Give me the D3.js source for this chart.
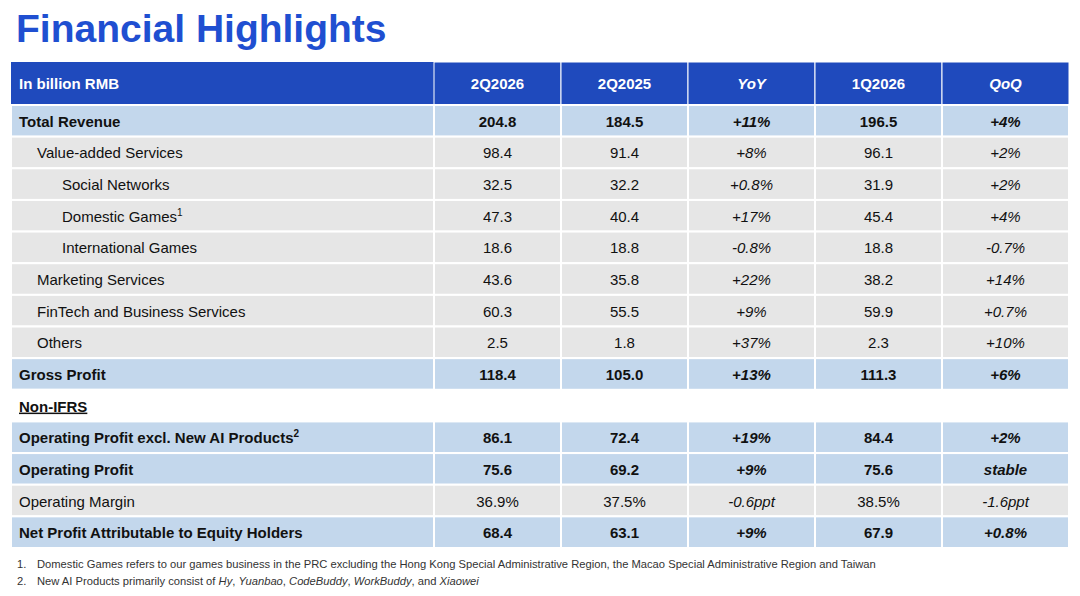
<!DOCTYPE html>
<html><head><meta charset="utf-8">
<script src="https://cdn.jsdelivr.net/npm/d3@7"></script>
<style>body{margin:0;background:#fff;font-family:"Liberation Sans",Arial,sans-serif}</style>
</head><body><div id="chart"></div>
<script>
var headers = ["In billion RMB","2Q2026","2Q2025","YoY","1Q2026","QoQ"]
var labels = ["Total Revenue","Value-added Services","Social Networks","Domestic Games","International Games","Marketing Services","FinTech and Business Services","Others","Gross Profit","Non-IFRS","Operating Profit excl. New AI Products","Operating Profit","Operating Margin","Net Profit Attributable to Equity Holders"]
var notes = ["","","","1","","","","","","","2","","",""]
var levels = [0,1,2,2,2,1,1,1,0,0,0,0,0,0]
var kinds = ["total","item","item","item","item","item","item","item","total","section","total","total","item","total"]
var q2_2026 = ["204.8","98.4","32.5","47.3","18.6","43.6","60.3","2.5","118.4","","86.1","75.6","36.9%","68.4"]
var q2_2025 = ["184.5","91.4","32.2","40.4","18.8","35.8","55.5","1.8","105.0","","72.4","69.2","37.5%","63.1"]
var yoy = ["+11%","+8%","+0.8%","+17%","-0.8%","+22%","+9%","+37%","+13%","","+19%","+9%","-0.6ppt","+9%"]
var q1_2026 = ["196.5","96.1","31.9","45.4","18.8","38.2","59.9","2.3","111.3","","84.4","75.6","38.5%","67.9"]
var qoq = ["+4%","+2%","+2%","+4%","-0.7%","+14%","+0.7%","+10%","+6%","","+2%","stable","-1.6ppt","+0.8%"]
var footnotes = [
  [["1.",""],["Domestic Games refers to our games business in the PRC excluding the Hong Kong Special Administrative Region, the Macao Special Administrative Region and Taiwan",""]],
  [["2.",""],["New AI Products primarily consist of ",""],["Hy","i"],[", ",""],["Yuanbao","i"],[", ",""],["CodeBuddy","i"],[", ",""],["WorkBuddy","i"],[", and ",""],["Xiaowei","i"]]
]

var width = 1080, height = 596
var cols = [q2_2026, q2_2025, yoy, q1_2026, qoq]
var italicCol = [false,false,true,false,true]

var svg = d3.select("#chart").append("svg").attr("width", width).attr("height", height)

svg.append("text").attr("x", 16).attr("y", 42).attr("fill", "#1f4fd1")
  .attr("font-size", 39).attr("font-weight", "bold").text("Financial Highlights")

// columns: first label column then 5 equal value columns
var x0 = 11, labelW = 423
var x = d3.scaleBand().domain(d3.range(5)).range([x0 + labelW, 1069])
var y = d3.scaleBand().domain(d3.range(labels.length)).range([105, 548])
var headTop = 62, headBot = 105

var fills = {total:"#c3d7ec", item:"#e6e6e6", section:"#ffffff"}

// header
var hg = svg.append("g")
hg.append("rect").attr("x", x0).attr("y", headTop).attr("width", labelW).attr("height", headBot - headTop).attr("fill", "#1f4abd")
hg.selectAll("rect.h").data(d3.range(5)).join("rect").attr("class", "h")
  .attr("x", d => x(d)).attr("y", headTop).attr("width", x.bandwidth()).attr("height", headBot - headTop).attr("fill", "#1f4abd")
  .attr("stroke", "#fff").attr("stroke-width", 1)
hg.append("text").attr("x", 19).attr("y", 89).attr("fill", "#fff").attr("font-size", 15).attr("font-weight", "bold").text(headers[0])
hg.selectAll("text.h").data(d3.range(5)).join("text").attr("class", "h")
  .attr("x", d => x(d) + x.bandwidth()/2).attr("y", 89).attr("text-anchor", "middle")
  .attr("fill", "#fff").attr("font-size", 15).attr("font-weight", "bold")
  .attr("font-style", d => italicCol[d] ? "italic" : "normal").text(d => headers[d+1])

// body
var rows = svg.selectAll("g.row").data(d3.range(labels.length)).join("g").attr("class", "row")
rows.append("rect").attr("x", x0).attr("y", d => y(d)).attr("width", labelW).attr("height", y.bandwidth())
  .attr("fill", d => fills[kinds[d]]).attr("stroke", "#fff").attr("stroke-width", 2)
rows.selectAll("rect.c").data(d => d3.range(5).map(c => [d, c])).join("rect").attr("class", "c")
  .attr("x", d => x(d[1])).attr("y", d => y(d[0])).attr("width", x.bandwidth()).attr("height", y.bandwidth())
  .attr("fill", d => fills[kinds[d[0]]]).attr("stroke", d => kinds[d[0]] == "section" ? "none" : "#fff").attr("stroke-width", 2)

var indent = [19, 37, 62]
var lbl = rows.append("text").attr("x", d => indent[levels[d]]).attr("y", d => y(d) + y.bandwidth()/2 + 6)
  .attr("font-size", 15).attr("fill", "#111")
  .attr("font-weight", d => kinds[d] == "item" ? "normal" : "bold")
  .attr("text-decoration", d => kinds[d] == "section" ? "underline" : null)
lbl.append("tspan").text(d => labels[d])
lbl.append("tspan").attr("dy", -6).attr("font-size", 10).text(d => notes[d])

rows.selectAll("text.v").data(d => d3.range(5).map(c => [d, c])).join("text").attr("class", "v")
  .attr("x", d => x(d[1]) + x.bandwidth()/2).attr("y", d => y(d[0]) + y.bandwidth()/2 + 6)
  .attr("text-anchor", "middle").attr("font-size", 15).attr("fill", "#111")
  .attr("font-weight", d => kinds[d[0]] == "item" ? "normal" : "bold")
  .attr("font-style", d => italicCol[d[1]] ? "italic" : "normal")
  .text(d => cols[d[1]][d[0]])

// footnotes
footnotes.forEach(function(parts, i){
  var t = svg.append("text").attr("y", 568 + i*16.5).attr("font-size", 11.2).attr("fill", "#333")
  t.append("tspan").attr("x", 17).text(parts[0][0])
  t.append("tspan").attr("x", 37).attr("font-style", parts[1][1] ? "italic" : "normal").text(parts[1][0])
  parts.slice(2).forEach(p => t.append("tspan").attr("font-style", p[1] ? "italic" : "normal").text(p[0]))
})
</script></body></html>
